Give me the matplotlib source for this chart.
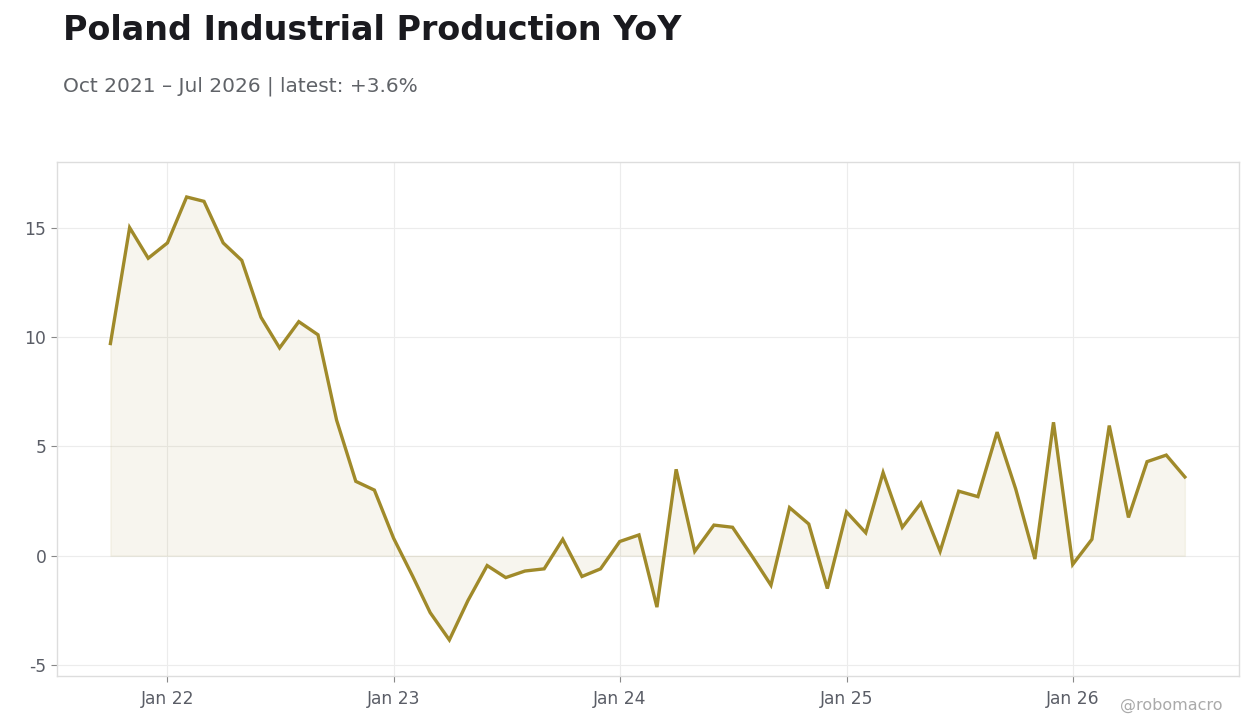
import numpy as np
import pandas as pd
import matplotlib
matplotlib.use("Agg")
import matplotlib.pyplot as plt
import matplotlib.dates as mdates

plt.rcParams['font.family'] = ['DejaVu Sans']
plt.rcParams['axes.unicode_minus'] = False

# Monthly YoY industrial production, Oct 2021 - Jul 2026
dates = pd.date_range('2021-10-01', '2026-07-01', freq='MS')
yoy = [9.7, 15.0, 13.6, 14.3, 16.4, 16.2, 14.3, 13.5, 10.9, 9.5,
       10.7, 10.1, 6.2, 3.4, 3.0, 0.8, -0.95, -2.6, -3.85, -2.05,
       -0.45, -1.0, -0.7, -0.6, 0.75, -0.95, -0.6, 0.65, 0.95, -2.35,
       3.95, 0.2, 1.4, 1.3, 0.0, -1.35, 2.2, 1.45, -1.5, 2.0,
       1.05, 3.8, 1.3, 2.4, 0.2, 2.95, 2.7, 5.65, 3.05, -0.15,
       6.1, -0.4, 0.75, 5.95, 1.75, 4.3, 4.6, 3.6]

tick_dates = pd.to_datetime(['2022-01-01', '2023-01-01', '2024-01-01', '2025-01-01', '2026-01-01'])
tick_labels = ['Jan 22', 'Jan 23', 'Jan 24', 'Jan 25', 'Jan 26']

line_col = '#A08A2A'
text_col = '#5a5d66'

fig = plt.figure(figsize=(12.6, 7.28), dpi=100)
ax = fig.add_axes([0.045, 0.0714, 0.938, 0.7061])

ax.fill_between(dates, 0, yoy, color=line_col, alpha=0.08, linewidth=1)
ax.plot(dates, yoy, color=line_col, linewidth=2.4, solid_joinstyle='miter')

ax.set_ylim(-5.5, 18.0)
ax.margins(x=0.05)
ax.set_yticks([-5, 0, 5, 10, 15])
ax.set_xticks(tick_dates)
ax.set_xticklabels(tick_labels)

ax.grid(True, color='#ececec', linewidth=0.8)
ax.set_axisbelow(True)
for s in ax.spines.values():
    s.set_color('#dddddd')
    s.set_linewidth(1)
ax.tick_params(axis='both', colors='#888888', labelcolor=text_col, labelsize=12.3, length=4, width=0.8)
ax.tick_params(axis='x', pad=6)

fig.text(0.05, 0.945, 'Poland Industrial Production YoY', fontsize=24, fontweight='bold', color='#1a1a1f')
fig.text(0.05, 0.874, 'Oct 2021 – Jul 2026 | latest: +3.6%', fontsize=14.5, color='#606368')
fig.text(0.97, 0.025, '@robomacro', fontsize=11.5, color='#aaaaaa', ha='right')

fig.savefig('out.png', dpi=100)
